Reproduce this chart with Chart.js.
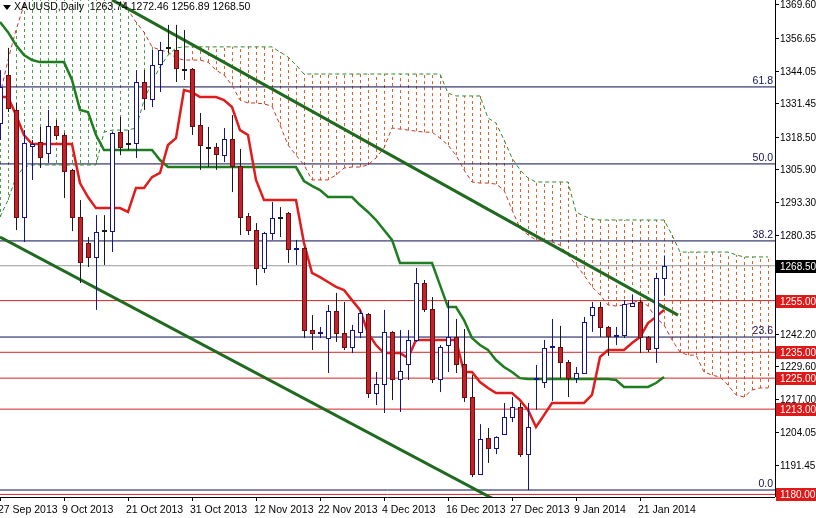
<!DOCTYPE html>
<html><head><meta charset="utf-8">
<script src="https://cdn.jsdelivr.net/npm/chart.js@4"></script>
<style>html,body{margin:0;padding:0;background:#fff;}#wrap{width:816px;height:518px;}</style>
</head><body><div id="wrap"><canvas id="c" width="816" height="518"></canvas></div>
<script>
const dateLabels = ['27 Sep 2013','9 Oct 2013','21 Oct 2013','31 Oct 2013','12 Nov 2013','22 Nov 2013','4 Dec 2013','16 Dec 2013','27 Dec 2013','9 Jan 2014','21 Jan 2014'];
const dateLabelIdx = [0,8,16,24,32,40,48,56,64,72,80];
const open = [1323.7,1342.3,1328.8,1287.4,1314.8,1316.4,1312.1,1322.6,1319.1,1305.6,
1287.4,1277.3,1271.9,1282.3,1281.9,1320.3,1316.0,1316.0,1339.6,1333.0,
1346.6,1353.1,1352.0,1344.6,1344.6,1323.0,1314.4,1314.4,1311.3,1317.5,
1307.1,1287.8,1282.3,1267.6,1281.2,1287.4,1288.9,1275.0,1275.4,1243.6,
1242.5,1240.5,1251.0,1242.5,1237.0,1242.9,1249.8,1219.3,1222.7,1242.9,
1224.7,1230.5,1239.8,1261.8,1251.8,1224.7,1237.8,1240.9,1230.5,1217.7,
1187.9,1201.8,1198.0,1203.4,1210.0,1213.8,1195.6,1225.0,1223.5,1237.0,
1237.0,1231.2,1225.0,1227.0,1249.4,1252.5,1244.8,1241.3,1241.7,1252.9,
1254.5,1240.9,1236.7,1263.74];
const close = [1337.7,1329.5,1287.4,1316.0,1315.6,1310.6,1322.6,1319.1,1305.2,1287.4,
1269.9,1271.9,1281.6,1282.0,1319.9,1314.4,1315.7,1339.6,1333.4,1346.2,
1352.0,1352.7,1345.0,1344.3,1322.6,1315.2,1314.0,1311.7,1317.5,1307.1,
1287.4,1282.3,1267.6,1281.2,1287.0,1287.0,1275.0,1275.4,1243.6,1242.5,
1242.8,1251.0,1242.5,1237.0,1243.6,1250.2,1219.3,1222.7,1242.9,1224.7,
1227.8,1239.8,1261.8,1251.8,1224.7,1237.0,1240.9,1230.5,1217.7,1187.9,
1201.4,1198.0,1202.2,1210.0,1213.8,1195.6,1206.1,1225.2,1236.7,1237.4,
1231.2,1225.0,1227.0,1246.7,1252.5,1244.8,1241.3,1241.7,1253.7,1254.1,
1240.9,1236.3,1263.7,1268.50];
const high = [1344.2,1352.8,1331.5,1321.0,1317.2,1322.2,1328.8,1324.9,1320.0,1306.0,
1293.9,1279.6,1288.1,1288.1,1320.5,1326.1,1321.0,1344.2,1344.2,1352.0,
1355.1,1361.7,1361.7,1359.7,1345.0,1327.6,1322.2,1316.0,1321.8,1326.8,
1313.7,1288.9,1285.0,1281.6,1293.2,1291.2,1289.3,1278.5,1275.6,1249.4,
1244.8,1253.3,1258.0,1254.5,1245.6,1251.4,1250.2,1227.4,1251.4,1243.2,
1243.6,1243.6,1267.6,1263.0,1256.4,1237.8,1255.2,1247.9,1244.0,1226.2,
1207.2,1205.7,1202.5,1215.4,1217.7,1215.4,1215.4,1230.1,1239.8,1247.9,
1245.2,1232.0,1229.3,1248.7,1254.5,1254.5,1245.2,1244.8,1255.2,1257.2,
1255.2,1241.3,1265.7,1272.46];
const low = [1317.2,1328.0,1282.3,1277.7,1301.7,1306.3,1308.3,1317.2,1294.7,1281.9,
1261.8,1268.0,1251.4,1268.8,1273.8,1311.3,1313.3,1310.2,1328.8,1329.9,
1335.7,1350.8,1339.6,1340.4,1319.1,1305.6,1306.7,1305.6,1308.6,1297.0,
1280.4,1280.4,1261.0,1265.7,1278.5,1279.6,1269.6,1268.8,1240.5,1235.9,
1240.5,1227.0,1239.0,1235.9,1234.7,1240.5,1217.3,1214.6,1211.5,1216.5,
1211.9,1224.3,1239.0,1250.6,1223.1,1219.6,1227.4,1227.0,1215.8,1186.7,
1187.5,1192.2,1195.6,1203.4,1208.0,1194.5,1181.7,1212.7,1221.2,1216.2,
1225.0,1217.7,1223.1,1226.6,1242.9,1240.9,1233.6,1237.8,1240.5,1253.3,
1234.7,1235.1,1230.9,1256.89];
const tenkan = [1333.8,1333.8,1326.8,1319.1,1315.6,1315.6,1315.6,1315.6,1315.6,1315.6,
1300.5,1295.1,1290.8,1290.8,1290.8,1290.8,1289.3,1298.6,1298.6,1302.8,
1304.4,1315.2,1317.9,1336.5,1335.7,1333.8,1333.8,1333.8,1332.6,1329.9,
1321.0,1319.1,1301.7,1293.9,1293.9,1293.9,1293.9,1293.9,1277.3,1265.7,
1264.1,1262.2,1260.3,1259.1,1255.2,1251.4,1242.5,1237.8,1234.7,1234.7,
1234.7,1232.8,1239.8,1239.8,1239.8,1239.8,1239.8,1239.8,1227.4,1227.4,
1223.5,1221.2,1219.2,1219.2,1219.2,1216.5,1212.7,1206.1,1210.7,1215.4,
1215.4,1215.4,1215.4,1215.4,1218.5,1233.2,1235.9,1235.9,1235.9,1238.6,
1240.9,1246.3,1248.7,1251.4];
const kijun = [1362.8,1358.9,1353.9,1350.0,1348.1,1347.3,1347.3,1347.3,1347.3,1340.4,
1328.8,1328.0,1319.1,1313.3,1313.3,1313.3,1313.3,1313.3,1313.3,1313.3,
1309.4,1306.7,1306.7,1306.7,1306.7,1306.7,1306.7,1306.7,1306.7,1306.7,
1306.7,1306.7,1306.7,1306.7,1306.7,1306.7,1306.7,1306.7,1301.3,1299.4,
1297.8,1295.1,1295.1,1295.1,1295.1,1292.0,1289.3,1286.2,1282.3,1278.5,
1269.6,1269.6,1269.6,1269.6,1269.6,1261.0,1252.5,1252.5,1247.5,1240.5,
1237.8,1235.9,1232.0,1229.3,1227.4,1225.0,1224.7,1224.7,1224.7,1224.7,
1224.7,1224.7,1224.7,1224.7,1224.7,1224.7,1224.7,1224.3,1221.6,1221.6,
1221.6,1221.6,1223.1,1225.4];
const spanRed = [1334.6,1348.1,1359.7,1369.4,1379.1,1379.1,1379.1,1379.1,1379.1,1379.1,
1379.1,1379.1,1379.1,1379.1,1379.1,1373.3,1367.5,1362.8,1358.9,1353.2,
1352.0,1351.2,1348.9,1348.1,1348.1,1348.1,1347.3,1344.2,1342.3,1338.4,
1332.6,1331.5,1331.5,1331.1,1330.3,1323.0,1315.2,1311.3,1307.5,1301.7,
1301.7,1301.7,1303.6,1306.3,1306.7,1306.7,1307.5,1310.2,1314.1,1321.8,
1321.4,1321.0,1320.6,1320.2,1320.2,1317.9,1315.2,1311.3,1305.6,1300.9,
1300.5,1300.5,1300.1,1297.8,1290.1,1283.1,1280.4,1278.5,1278.1,1277.7,
1276.5,1272.7,1268.8,1264.9,1260.3,1257.2,1253.3,1252.9,1253.3,1254.1,
1255.2,1252.9,1248.3,1245.6,1239.8,1235.1,1233.9,1233.9,1227.4,1226.2,
1225.4,1222.3,1218.5,1217.7,1220.4,1221.2,1221.2];
const spanGreen = [1287.4,1293.9,1302.8,1306.7,1307.5,1307.5,1307.5,1307.5,1307.5,1307.5,
1307.5,1307.5,1307.5,1320.2,1321.0,1321.0,1321.0,1321.8,1332.6,1339.6,
1345.4,1350.0,1352.8,1353.2,1353.2,1353.2,1353.2,1353.2,1353.2,1353.2,
1353.2,1353.2,1353.2,1353.2,1353.2,1351.2,1349.3,1346.2,1342.7,1342.7,
1342.7,1342.7,1342.7,1342.7,1342.7,1342.7,1342.7,1342.7,1342.7,1342.7,
1342.7,1342.7,1342.7,1342.7,1342.7,1342.7,1335.3,1334.2,1334.2,1334.2,
1334.2,1325.7,1323.7,1317.2,1310.2,1305.6,1302.5,1300.9,1300.9,1300.9,
1300.9,1300.9,1289.3,1287.7,1286.6,1286.2,1286.2,1286.2,1286.2,1286.2,
1286.2,1286.2,1286.2,1286.2,1280.4,1273.8,1273.8,1273.8,1273.8,1273.8,
1273.8,1273.8,1272.7,1271.9,1271.9,1271.9,1271.9];
const fiboLevels = [1337.7,1307.9,1278.1,1240.9,1181.7];
const fiboNames = ['61.8','50.0','38.2','23.6','0.0'];
const srLevels = [1255.00,1235.00,1225.00,1213.00,1180.00];
const lastPrice = 1268.50;
const trendUpper = [{x:14,y:1371.4},{x:84.75,y:1249.4}];
const trendLower = [{x:0,y:1279.6},{x:62,y:1177.7}];
const yTicks = [1369.60,1356.65,1344.05,1331.45,1318.50,1305.90,1293.30,1280.35,1242.20,1229.60,1217.00,1204.05,1191.45];
const header = 'XAUUSD,Daily  1263.74 1272.46 1256.89 1268.50';

const XMAX = 96.875;
const FONT = '10.5px "Liberation Sans", Arial, sans-serif';
const AXFONT = '10px "Liberation Sans", Arial, sans-serif';
const pts = a => a.map((v,i)=>({x:i,y:v}));
const hline = (v,color,order) => ({type:'line',data:[{x:0,y:v},{x:XMAX,y:v}],borderColor:color,borderWidth:1,pointRadius:0,order});
const datasets = [];
fiboLevels.forEach(v=>datasets.push(hline(v,'#0c0c50',6)));
srLevels.forEach(v=>datasets.push(hline(v,'#d42424',6)));
datasets.push(hline(lastPrice,'#9a9a9a',6));
datasets.push({type:'line',data:pts(spanRed),borderColor:'#c83a2a',borderWidth:1,borderDash:[4,3],pointRadius:0,order:5});
datasets.push({type:'line',data:pts(spanGreen),borderColor:'#2c8a2c',borderWidth:1,borderDash:[4,3],pointRadius:0,order:5});
datasets.push({type:'line',data:trendUpper,borderColor:'#1f6a1f',borderWidth:3,pointRadius:0,order:4});
datasets.push({type:'line',data:trendLower,borderColor:'#1f6a1f',borderWidth:3,pointRadius:0,order:4});
datasets.push({type:'line',data:pts(kijun),borderColor:'#1e7d1e',borderWidth:2.5,pointRadius:0,order:3});
datasets.push({type:'line',data:pts(tenkan),borderColor:'#e01c1c',borderWidth:2.5,pointRadius:0,order:2});

const ichi = {
  id:'ichi',
  beforeDatasetsDraw(chart){
    const {ctx,chartArea:a,scales:{x,y}} = chart;
    ctx.save(); ctx.beginPath(); ctx.rect(a.left,a.top,a.right-a.left,a.bottom-a.top); ctx.clip();
    ctx.lineWidth=1; ctx.setLineDash([3,3]);
    for(let i=0;i<spanRed.length;i++){
      const px=Math.round(x.getPixelForValue(i))+0.5;
      ctx.strokeStyle = spanRed[i]>spanGreen[i] ? '#4aa04a' : '#e2602a';
      ctx.beginPath(); ctx.moveTo(px,y.getPixelForValue(spanRed[i])); ctx.lineTo(px,y.getPixelForValue(spanGreen[i])); ctx.stroke();
    }
    ctx.restore();
  },
  afterDatasetsDraw(chart){
    const {ctx,chartArea:a,scales:{x,y}} = chart;
    ctx.save(); ctx.beginPath(); ctx.rect(a.left,a.top,a.right-a.left,a.bottom-a.top); ctx.clip();
    for(let i=0;i<open.length;i++){
      const px=Math.round(x.getPixelForValue(i));
      const bull = close[i]>=open[i];
      const doji = Math.abs(close[i]-open[i])<0.5;
      ctx.strokeStyle = bull ? '#14148c' : '#1a1a1a';
      ctx.lineWidth=1;
      ctx.beginPath(); ctx.moveTo(px+0.5,y.getPixelForValue(high[i])); ctx.lineTo(px+0.5,y.getPixelForValue(low[i])); ctx.stroke();
      const yo=y.getPixelForValue(open[i]), yc=y.getPixelForValue(close[i]);
      const top=Math.round(Math.min(yo,yc)), bot=Math.round(Math.max(yo,yc));
      if(doji){ ctx.fillStyle = bull ? '#14148c':'#1a1a1a'; ctx.fillRect(px-2,top,5,Math.max(2,bot-top)); continue; }
      if(bull){ ctx.fillStyle='#fff'; ctx.fillRect(px-2,top,5,bot-top); ctx.strokeStyle='#14148c'; ctx.strokeRect(px-2+0.5,top+0.5,4,bot-top); }
      else { ctx.fillStyle='#c4222a'; ctx.fillRect(px-2,top,5,bot-top); ctx.strokeStyle='#6a1010'; ctx.strokeRect(px-2+0.5,top+0.5,4,bot-top); }
    }
    ctx.restore();
  },
  afterDraw(chart){
    const {ctx,chartArea:a,scales:{x,y}} = chart;
    ctx.save();
    ctx.font=AXFONT; ctx.textBaseline='middle'; ctx.lineWidth=1;
    ctx.strokeStyle='#000';
    ctx.beginPath(); ctx.moveTo(a.right+0.5,0); ctx.lineTo(a.right+0.5,a.bottom); ctx.stroke();
    ctx.fillStyle='#000'; ctx.textAlign='left';
    yTicks.forEach(v=>{const py=Math.round(y.getPixelForValue(v))+0.5;
      ctx.beginPath(); ctx.moveTo(a.right,py); ctx.lineTo(a.right+4,py); ctx.stroke();
      ctx.fillText(v.toFixed(2),a.right+5,py+1);});
    ctx.font=FONT;
    ctx.fillStyle='#10105a'; ctx.textAlign='right';
    fiboLevels.forEach((v,i)=>ctx.fillText(fiboNames[i],a.right-2,y.getPixelForValue(v)-6));
    ctx.textAlign='left'; ctx.font=AXFONT;
    const box=(v,bg)=>{const py=Math.round(y.getPixelForValue(v)); ctx.fillStyle=bg; ctx.fillRect(a.right+1,py-6,41,13); ctx.fillStyle='#fff'; ctx.fillText(v.toFixed(2),a.right+5,py+1);};
    srLevels.forEach(v=>box(v,'#e01818'));
    box(lastPrice,'#000');
    ctx.font=FONT;
    ctx.beginPath(); ctx.moveTo(a.left,a.bottom+0.5); ctx.lineTo(a.right,a.bottom+0.5); ctx.stroke();
    ctx.fillStyle='#000'; ctx.textBaseline='alphabetic';
    dateLabelIdx.forEach((idx,k)=>{
      const px=Math.round(x.getPixelForValue(idx));
      ctx.beginPath(); ctx.moveTo(px+0.5,a.bottom); ctx.lineTo(px+0.5,a.bottom+4); ctx.stroke();
      ctx.fillText(dateLabels[k], px-2, a.bottom+16);
    });
    ctx.fillStyle='#000'; ctx.beginPath(); ctx.moveTo(3,5); ctx.lineTo(11,5); ctx.lineTo(7,10); ctx.closePath(); ctx.fill();
    ctx.textBaseline='middle'; ctx.fillText(header,14,7);
    ctx.restore();
  }
};

new Chart(document.getElementById('c'),{
  type:'line',
  data:{datasets},
  options:{
    responsive:false, animation:false, devicePixelRatio:1,
    layout:{padding:{left:0,top:0,right:41,bottom:21}},
    plugins:{legend:{display:false},tooltip:{enabled:false}},
    scales:{
      x:{type:'linear',min:0,max:XMAX,display:false},
      y:{type:'linear',min:1179.0,max:1371.34,display:false}
    }
  },
  plugins:[ichi]
});
</script></body></html>
